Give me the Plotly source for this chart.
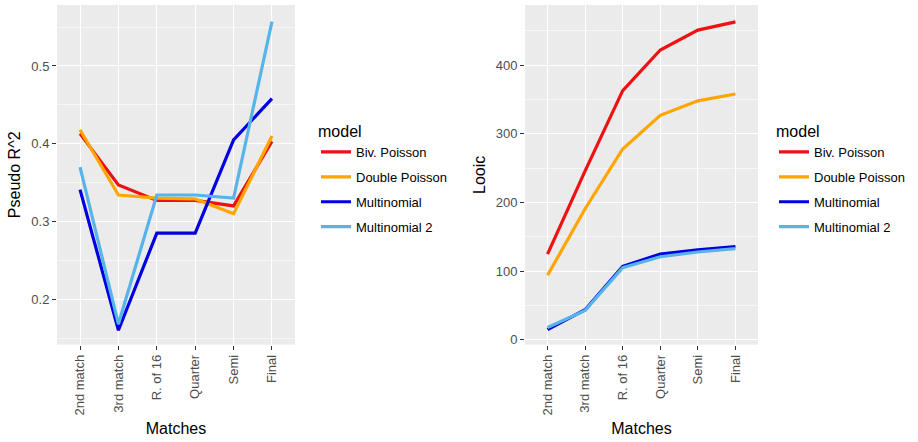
import plotly.graph_objects as go

matches = ["2nd match", "3rd match", "R. of 16", "Quarter", "Semi", "Final"]
models = ["Biv. Poisson", "Double Poisson", "Multinomial", "Multinomial 2"]
colors = ["#ee1111", "#ffa500", "#0000e0", "#56b4e9"]

r2_biv = [0.413, 0.347, 0.327, 0.327, 0.320, 0.403]
r2_dbl = [0.418, 0.334, 0.330, 0.329, 0.310, 0.410]
r2_mn = [0.341, 0.160, 0.285, 0.285, 0.405, 0.458]
r2_mn2 = [0.370, 0.168, 0.334, 0.334, 0.330, 0.557]

looic_biv = [125, 246, 363, 422, 451, 463]
looic_dbl = [94, 191, 278, 327, 348, 358]
looic_mn = [15, 44, 107, 125, 131, 136]
looic_mn2 = [18, 43, 105, 121, 128, 133]

r2 = [r2_biv, r2_dbl, r2_mn, r2_mn2]
looic = [looic_biv, looic_dbl, looic_mn, looic_mn2]

fig = go.Figure()
for i, m in enumerate(models):
    fig.add_trace(go.Scatter(x=matches, y=r2[i], mode="lines", name=m,
                             line=dict(color=colors[i], width=3.2),
                             xaxis="x", yaxis="y", legend="legend",
                             legendgroup="a" + str(i)))
for i, m in enumerate(models):
    fig.add_trace(go.Scatter(x=matches, y=looic[i], mode="lines", name=m,
                             line=dict(color=colors[i], width=3.2),
                             xaxis="x2", yaxis="y2", legend="legend2",
                             legendgroup="b" + str(i)))

W, H = 918, 442
font = "Liberation Sans, Arial, sans-serif"
axis_common = dict(
    showline=False, ticks="outside", ticklen=4, tickcolor="#333333", tickwidth=1,
    tickfont=dict(family=font, size=13, color="#4d4d4d"),
    gridcolor="white", gridwidth=1.2, zeroline=False,
    title_font=dict(family=font, size=16, color="black"),
)
xax = dict(axis_common, type="category", range=[-0.6, 5.6], tickangle=-90,
           title_text="Matches", title_standoff=8)
ydom = [1 - 347 / H, 1 - 5 / H]

leg = dict(yanchor="top", xanchor="left",
           font=dict(size=13, color="black", family=font),
           tracegroupgap=5, itemwidth=30, bgcolor="rgba(0,0,0,0)",
           title=dict(text="model", font=dict(size=16, color="black", family=font)))

fig.update_layout(
    width=W, height=H, margin=dict(l=0, r=0, t=0, b=0),
    paper_bgcolor="white", plot_bgcolor="#ebebeb",
    font=dict(family=font),
    xaxis=dict(xax, domain=[57 / W, 295 / W], anchor="y"),
    xaxis2=dict(xax, domain=[525 / W, 758 / W], anchor="y2"),
    yaxis=dict(axis_common, domain=ydom, range=[0.1415, 0.5785],
               tickvals=[0.2, 0.3, 0.4, 0.5], ticktext=["0.2", "0.3", "0.4", "0.5"],
               minor=dict(showgrid=True, gridcolor="#f7f7f7", gridwidth=0.6,
                          tickvals=[0.15, 0.25, 0.35, 0.45, 0.55], ticks=""),
               title_text="Pseudo R^2", title_standoff=6, anchor="x"),
    yaxis2=dict(axis_common, domain=ydom, range=[-6.9, 487.6],
                tickvals=[0, 100, 200, 300, 400],
                minor=dict(showgrid=True, gridcolor="#f7f7f7", gridwidth=0.6,
                           tickvals=[50, 150, 250, 350, 450], ticks=""),
                title_text="Looic", title_standoff=6, anchor="x2"),
    legend=dict(leg, x=316 / W, y=1 - 117 / H),
    legend2=dict(leg, x=774 / W, y=1 - 117 / H),
)

fig.write_html("out.html")
